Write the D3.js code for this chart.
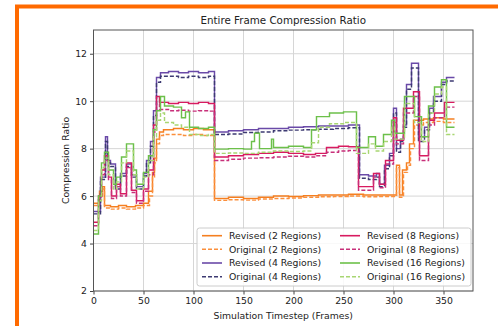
<!DOCTYPE html>
<html>
<head>
<meta charset="utf-8">
<script src="https://cdn.jsdelivr.net/npm/d3@7"></script>
<style>
  body { margin: 0; background: #fff; }
  svg { display: block; font-family: "DejaVu Sans", sans-serif; }
</style>
</head>
<body>
<svg id="chart" width="498" height="326"></svg>
<script>
// [frame, value] change points, drawn as steps
const rev2 = [[0,5.7],[6,6.2],[9,6.4],[11,5.6],[17,5.55],[25,5.6],[33,5.55],[42,5.6],[50,5.7],[55,6.2],[59,7.0],[61,7.6],[63,8.4],[66,8.7],[70,8.8],[80,8.85],[90,8.8],[100,8.85],[110,8.8],[121,5.9],[135,5.95],[150,5.9],[165,5.95],[180,6.0],[195,5.98],[210,6.02],[225,6.05],[240,6.05],[255,6.08],[270,6.05],[285,6.05],[295,6.05],[303,7.3],[306,6.05],[309,7.1],[313,7.4],[316,8.2],[320,9.2],[330,9.25],[340,9.3],[350,9.25],[361,9.25]];
const orig2 = [[0,5.6],[6,6.0],[9,6.3],[11,5.5],[17,5.45],[25,5.5],[33,5.45],[42,5.5],[50,5.6],[56,6.0],[59,6.8],[61,7.4],[63,8.2],[66,8.55],[70,8.6],[80,8.6],[90,8.55],[100,8.6],[110,8.55],[121,5.82],[135,5.85],[150,5.83],[165,5.88],[180,5.9],[195,5.92],[210,5.95],[225,5.97],[240,5.98],[255,6.0],[270,5.97],[285,5.98],[296,5.98],[303,7.2],[306,5.95],[310,7.0],[314,7.3],[317,8.0],[321,9.0],[330,9.1],[340,9.15],[350,9.1],[361,9.1]];
const rev4 = [[0,5.35],[7,6.8],[12,8.5],[14,7.5],[17,7.35],[22,6.4],[27,6.95],[33,7.35],[38,6.9],[43,6.4],[50,6.95],[53,7.5],[57,8.3],[60,9.6],[63,11.0],[67,11.2],[75,11.25],[85,11.2],[95,11.25],[105,11.2],[115,11.25],[121,8.7],[135,8.75],[150,8.8],[165,8.85],[180,8.85],[195,8.9],[210,8.92],[225,8.95],[240,8.95],[255,9.0],[266,6.9],[275,6.85],[283,6.95],[286,6.5],[291,7.3],[296,7.8],[300,9.7],[303,8.0],[307,8.4],[310,9.0],[313,10.7],[318,11.6],[325,8.5],[331,8.9],[336,9.7],[340,10.2],[348,10.8],[353,11.0],[361,11.0]];
const orig4 = [[0,5.25],[7,6.7],[12,8.3],[14,7.4],[17,7.25],[22,6.3],[27,6.85],[33,7.25],[38,6.8],[43,6.3],[50,6.85],[53,7.4],[57,8.1],[60,9.4],[63,10.8],[67,11.05],[75,11.05],[85,11.0],[95,11.05],[105,11.0],[115,11.05],[121,8.6],[135,8.62],[150,8.68],[165,8.7],[180,8.75],[195,8.78],[210,8.8],[225,8.82],[240,8.85],[255,8.88],[266,6.75],[275,6.7],[283,6.8],[286,6.4],[291,7.15],[296,7.7],[300,9.5],[303,7.85],[307,8.3],[310,8.9],[313,10.5],[318,11.4],[325,8.3],[331,8.8],[336,9.5],[340,10.0],[348,10.7],[353,10.85],[361,10.85]];
const rev8 = [[0,4.9],[5,6.0],[8,7.1],[11,7.7],[15,6.8],[18,6.0],[23,6.5],[27,6.1],[33,7.4],[38,6.25],[43,5.8],[50,6.3],[55,7.1],[60,9.0],[63,10.2],[66,9.95],[75,9.9],[85,9.95],[95,9.9],[105,9.95],[115,9.9],[121,7.65],[135,7.7],[150,7.75],[165,7.8],[180,7.85],[195,7.8],[210,7.75],[222,7.8],[233,8.05],[245,8.1],[255,8.08],[265,6.4],[280,6.95],[286,6.5],[292,7.5],[300,9.3],[303,8.35],[310,9.7],[320,10.4],[326,7.7],[335,9.2],[341,9.5],[351,9.95],[361,9.95]];
const orig8 = [[0,4.75],[5,5.85],[8,6.9],[11,7.5],[15,6.7],[18,5.9],[23,6.4],[27,6.0],[33,7.2],[38,6.15],[43,5.7],[50,6.2],[55,6.9],[60,8.7],[63,9.9],[66,9.65],[75,9.6],[85,9.62],[95,9.58],[105,9.6],[115,9.58],[121,7.5],[135,7.55],[150,7.6],[165,7.62],[180,7.65],[195,7.68],[210,7.65],[222,7.7],[233,7.85],[245,7.9],[255,7.92],[265,6.25],[280,6.8],[286,6.35],[292,7.35],[300,9.1],[303,8.2],[310,9.5],[320,10.2],[326,7.5],[335,9.0],[341,9.3],[351,9.75],[361,9.75]];
const rev16 = [[0,4.4],[5,6.0],[8,7.4],[11,7.85],[15,7.1],[20,6.5],[23,6.8],[28,7.65],[33,8.2],[40,7.1],[43,6.5],[50,7.0],[55,7.7],[60,8.8],[63,9.6],[67,10.2],[71,9.8],[80,9.75],[88,9.3],[92,9.55],[96,8.9],[105,8.85],[115,8.9],[121,7.98],[135,8.0],[150,7.98],[158,8.3],[161,8.65],[166,8.0],[178,8.4],[180,8.05],[195,8.1],[210,8.05],[218,8.8],[223,9.35],[236,9.5],[250,9.55],[263,8.05],[275,8.5],[282,8.1],[290,8.6],[298,9.2],[301,8.65],[311,10.2],[321,9.35],[328,8.5],[335,9.8],[341,10.6],[348,10.9],[353,8.9],[361,8.9]];
const orig16 = [[0,4.55],[5,5.8],[8,7.2],[11,7.6],[15,6.9],[20,6.3],[23,6.6],[28,7.4],[33,7.9],[40,6.9],[43,6.3],[50,6.8],[55,7.5],[60,8.5],[63,9.2],[67,9.5],[71,9.1],[80,9.0],[88,8.9],[96,8.6],[105,8.55],[115,8.6],[121,7.8],[135,7.82],[150,7.8],[165,7.85],[180,7.9],[195,7.88],[210,7.9],[218,8.25],[225,8.9],[236,9.05],[250,9.1],[263,7.8],[275,8.2],[282,7.9],[290,8.3],[298,8.9],[301,8.4],[311,9.9],[321,9.1],[328,8.3],[335,9.5],[341,10.3],[348,10.6],[353,8.6],[361,8.6]];

const xTicks = [0, 50, 100, 150, 200, 250, 300, 350];
const yTicks = [2, 4, 6, 8, 10, 12];

const series = [
  { name: "Revised (2 Regions)", data: rev2, color: "#f57f20", dash: null },
  { name: "Original (2 Regions)", data: orig2, color: "#fb8f3c", dash: "4,2" },
  { name: "Revised (4 Regions)", data: rev4, color: "#6a4aa8", dash: null },
  { name: "Original (4 Regions)", data: orig4, color: "#3d3a72", dash: "4,2" },
  { name: "Revised (8 Regions)", data: rev8, color: "#d81b60", dash: null },
  { name: "Original (8 Regions)", data: orig8, color: "#c8307a", dash: "4,2" },
  { name: "Revised (16 Regions)", data: rev16, color: "#6cc04a", dash: null },
  { name: "Original (16 Regions)", data: orig16, color: "#a8d672", dash: "4,2" }
];

const svg = d3.select("#chart");
const pLeft = 93.5, pRight = 473, pTop = 30, pBottom = 291;

// orange frame around the figure
svg.append("rect")
  .attr("x", 17).attr("y", 6.5)
  .attr("width", 600).attr("height", 600)
  .attr("fill", "none")
  .attr("stroke", "#ff6a00")
  .attr("stroke-width", 4);

const x = d3.scaleLinear().domain([0, 379.5]).range([pLeft, pRight]);
const y = d3.scaleLinear().domain([2, 13]).range([pBottom, pTop]);

// grid
svg.append("g").selectAll("line").data(xTicks).enter().append("line")
  .attr("x1", d => x(d)).attr("x2", d => x(d))
  .attr("y1", pTop).attr("y2", pBottom)
  .attr("stroke", "#d6d6d6").attr("stroke-width", 1);
svg.append("g").selectAll("line").data(yTicks).enter().append("line")
  .attr("x1", pLeft).attr("x2", pRight)
  .attr("y1", d => y(d)).attr("y2", d => y(d))
  .attr("stroke", "#d6d6d6").attr("stroke-width", 1);

// lines
const line = d3.line()
  .x(d => x(d[0]))
  .y(d => y(d[1]))
  .curve(d3.curveStepAfter);

svg.append("g").selectAll("path").data(series).enter().append("path")
  .attr("d", d => line(d.data))
  .attr("fill", "none")
  .attr("stroke", d => d.color)
  .attr("stroke-width", 1.45)
  .attr("stroke-dasharray", d => d.dash);

// axes
const xAxis = svg.append("g")
  .attr("transform", "translate(0," + pBottom + ")")
  .call(d3.axisBottom(x).tickValues(xTicks).tickSize(3.5).tickPadding(3));
const yAxis = svg.append("g")
  .attr("transform", "translate(" + pLeft + ",0)")
  .call(d3.axisLeft(y).tickValues(yTicks).tickSize(3.5).tickPadding(3));
[xAxis, yAxis].forEach(g => {
  g.select(".domain").remove();
  g.selectAll("line").attr("stroke", "#444");
  g.selectAll("text").attr("fill", "#222").style("font-size", "9.3px").style("font-family", "DejaVu Sans");
});

// frame
svg.append("rect")
  .attr("x", pLeft).attr("y", pTop)
  .attr("width", pRight - pLeft).attr("height", pBottom - pTop)
  .attr("fill", "none").attr("stroke", "#555").attr("stroke-width", 1);

// titles
svg.append("text")
  .attr("x", (pLeft + pRight) / 2).attr("y", 24)
  .attr("text-anchor", "middle")
  .style("font-size", "10.3px").attr("fill", "#222")
  .text("Entire Frame Compression Ratio");
svg.append("text")
  .attr("x", (pLeft + pRight) / 2).attr("y", 319)
  .attr("text-anchor", "middle")
  .style("font-size", "9.3px").attr("fill", "#222")
  .text("Simulation Timestep (Frames)");
svg.append("text")
  .attr("transform", "translate(69," + ((pTop + pBottom) / 2) + ") rotate(-90)")
  .attr("text-anchor", "middle")
  .style("font-size", "9.3px").attr("fill", "#222")
  .text("Compression Ratio");

// legend
const lg = svg.append("g");
lg.append("rect")
  .attr("x", 197).attr("y", 228)
  .attr("width", 274).attr("height", 58)
  .attr("rx", 2.5)
  .attr("fill", "#fff").attr("fill-opacity", 0.85)
  .attr("stroke", "#ccc");

const colX = [202, 340];
const rowY = [235.7, 249.3, 263, 276.7];
const item = lg.selectAll("g.item").data(series).enter().append("g")
  .attr("class", "item")
  .attr("transform", (d, i) => "translate(" + colX[Math.floor(i / 4)] + "," + rowY[i % 4] + ")");
item.append("line")
  .attr("x1", 0).attr("x2", 20)
  .attr("stroke", d => d.color)
  .attr("stroke-width", 1.6)
  .attr("stroke-dasharray", d => d.dash);
item.append("text")
  .attr("x", 27).attr("y", 3.3)
  .style("font-size", "9.3px").attr("fill", "#222")
  .text(d => d.name);
</script>
</body>
</html>
